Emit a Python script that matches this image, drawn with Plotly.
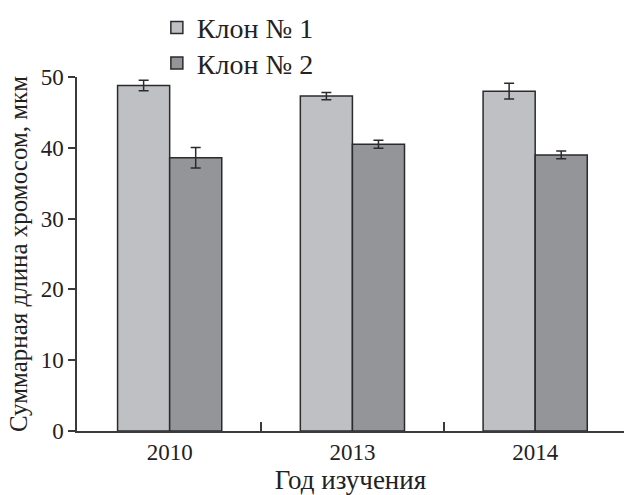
import plotly.graph_objects as go

# Summary chromosome length per clone and study year
years = ["2010", "2013", "2014"]
clone1 = [48.8, 47.3, 48.0]
clone1_err = [0.75, 0.5, 1.1]
clone2 = [38.6, 40.5, 39.0]
clone2_err = [1.45, 0.55, 0.55]
series_names = ["Клон № 1", "Клон № 2"]
y_ticks = [0, 10, 20, 30, 40, 50]

FONT = "Liberation Serif, Times New Roman, DejaVu Serif, serif"
EDGE = "#2b2b2b"
pos = list(range(len(years)))

fig = go.Figure()
for name, vals, errs, color, leg in [
    (series_names[0], clone1, clone1_err, "#bfc0c4", "legend"),
    (series_names[1], clone2, clone2_err, "#939598", "legend2"),
]:
    fig.add_trace(go.Bar(
        x=pos, y=vals, name=name, legend=leg,
        marker=dict(color=color, line=dict(color=EDGE, width=1.5)),
        error_y=dict(type="data", array=errs, color=EDGE, thickness=1.5, width=5),
    ))

legend_style = dict(
    x=0.146, xanchor="left", yanchor="middle",
    bgcolor="rgba(0,0,0,0)", font=dict(family=FONT, size=28, color="#222"),
    itemclick=False,
)

fig.update_layout(
    width=624, height=495,
    margin=dict(l=77, r=0, t=77, b=64, autoexpand=False),
    paper_bgcolor="white", plot_bgcolor="white",
    barmode="group", bargap=0.43, bargroupgap=0,
    font=dict(family=FONT, size=22, color="#222"),
    showlegend=True,
    legend=dict(y=1.139, **legend_style),
    legend2=dict(y=1.0387, **legend_style),
    xaxis=dict(
        range=[-0.507, 2.486], tickvals=pos, ticktext=years,
        showline=True, linecolor="#3a3a3a", linewidth=1.5,
        ticks="", showgrid=False, zeroline=False,
        tickfont=dict(family=FONT, size=23, color="#222"),
        minor=dict(tickvals=[0.5, 1.5], ticks="inside", ticklen=9,
                   tickcolor="#3a3a3a", tickwidth=1.5, showgrid=False),
        title=dict(text="Год изучения", font=dict(family=FONT, size=27, color="#222"),
                   standoff=2),
    ),
    yaxis=dict(
        range=[0, 50], tickvals=y_ticks,
        showline=True, linecolor="#3a3a3a", linewidth=1.5,
        ticks="outside", ticklen=7, tickcolor="#3a3a3a", tickwidth=1.5,
        showgrid=False, zeroline=False,
        tickfont=dict(family=FONT, size=23, color="#222"),
        title=dict(text="Суммарная длина хромосом, мкм",
                   font=dict(family=FONT, size=25, color="#222"), standoff=6),
    ),
)

fig.write_html("out.html")
